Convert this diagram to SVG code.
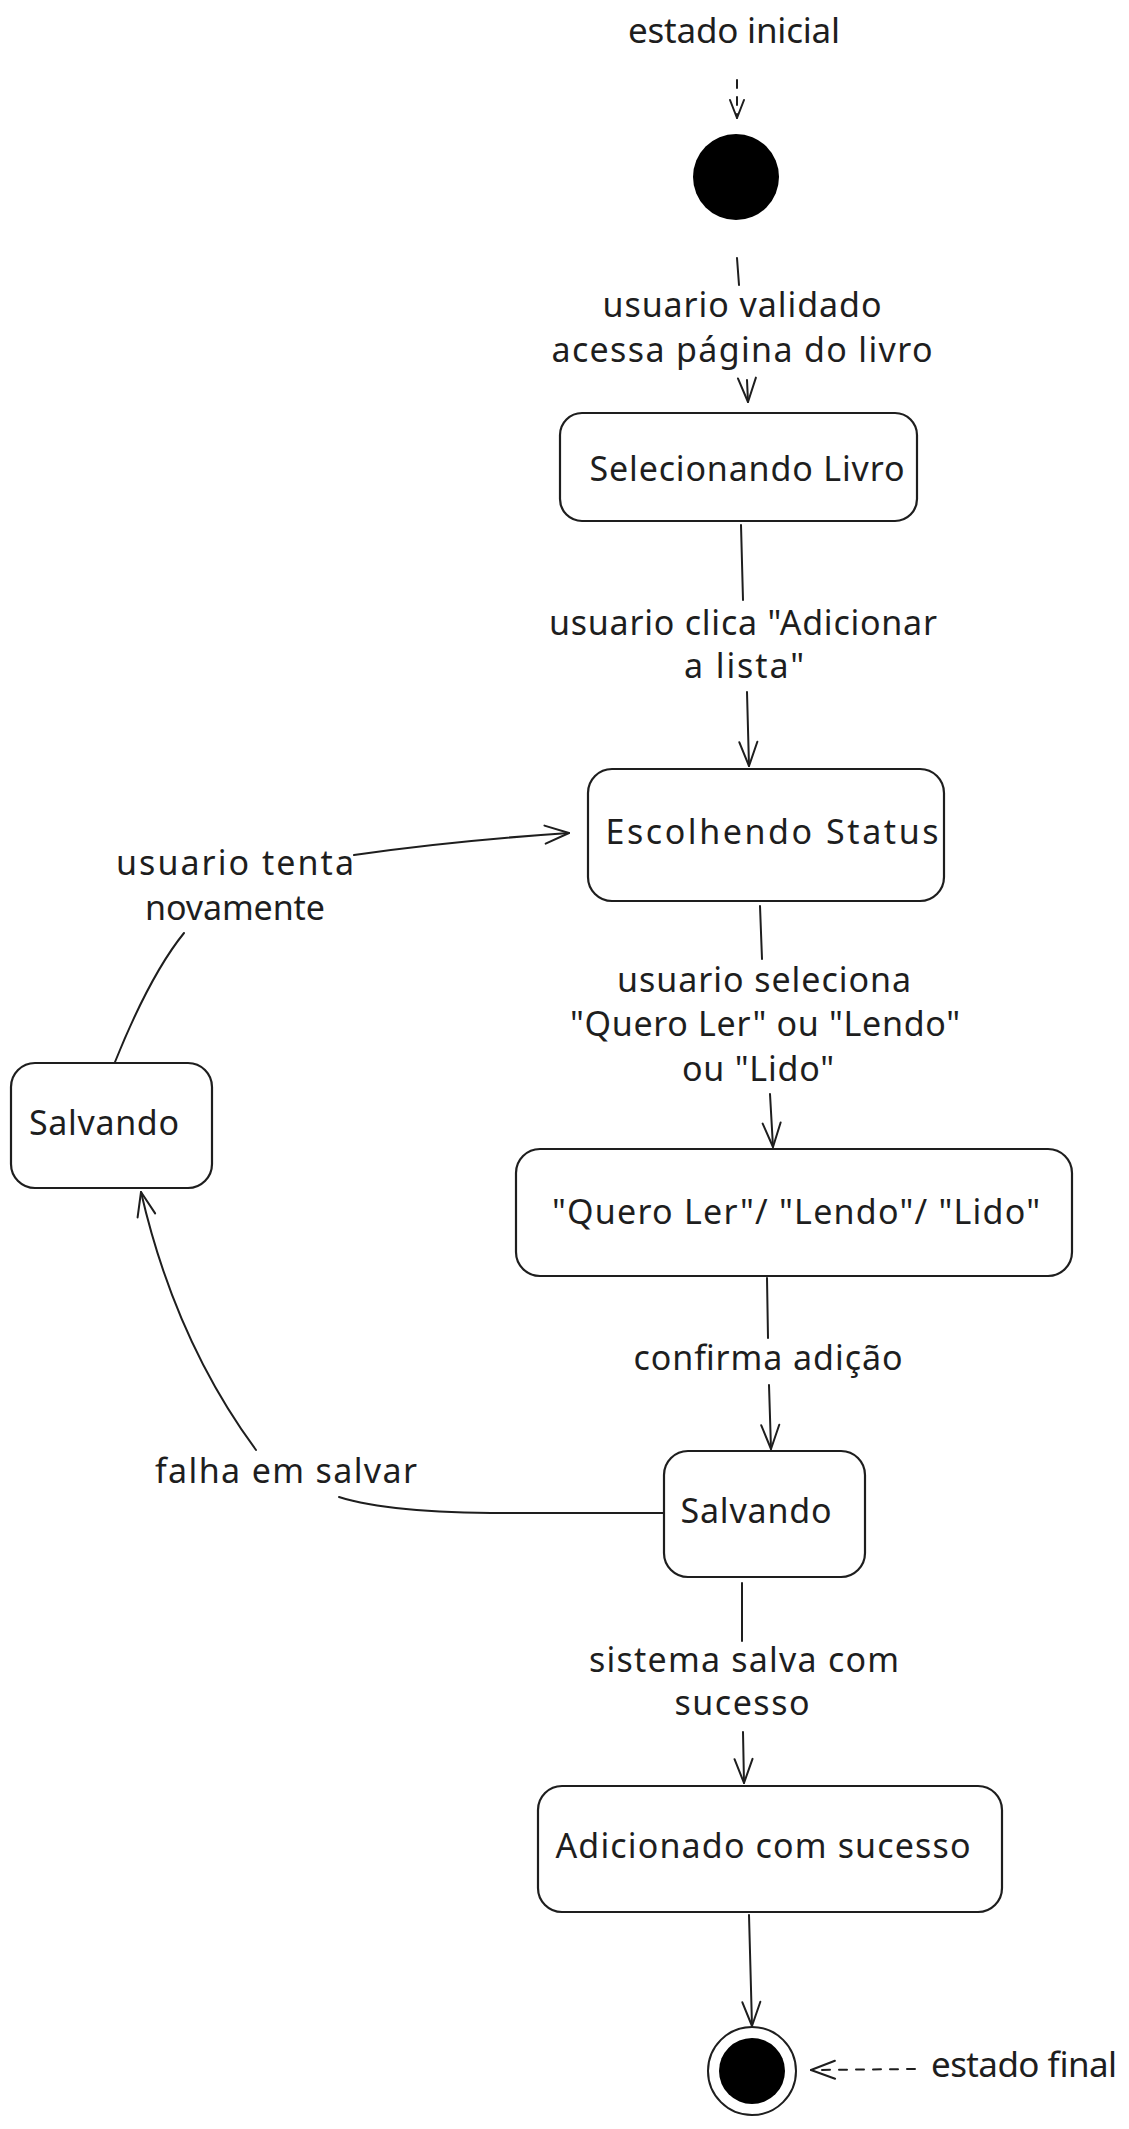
<svg xmlns="http://www.w3.org/2000/svg" width="1129" height="2129" viewBox="0 0 1129 2129">
<style>
  .box{fill:#ffffff;stroke:#1e1e1e;stroke-width:2.2}
  .hand{font-family:"Noto Sans","Liberation Sans",sans-serif;font-size:34px;fill:#1e1e1e;text-anchor:middle}
  .sans{font-family:"Noto Sans","Liberation Sans",sans-serif;font-size:35px;fill:#1e1e1e;text-anchor:middle}
  .edge{fill:none;stroke:#1e1e1e;stroke-width:2;stroke-linecap:round}
  .dash{stroke-dasharray:8 9}
</style>
<defs>
  <marker id="ah" viewBox="-28 -12 30 24" refX="0" refY="0" markerWidth="30" markerHeight="24" markerUnits="userSpaceOnUse" orient="auto">
    <path d="M-24,-9 L0,0 L-24,9" fill="none" stroke="#1e1e1e" stroke-width="2" stroke-linecap="round" stroke-linejoin="round"/>
  </marker>
  <marker id="ahs" viewBox="-28 -12 30 24" refX="0" refY="0" markerWidth="30" markerHeight="24" markerUnits="userSpaceOnUse" orient="auto">
    <path d="M-18,-7 L0,0 L-18,7" fill="none" stroke="#1e1e1e" stroke-width="2" stroke-linecap="round" stroke-linejoin="round"/>
  </marker>
</defs>
<rect x="0" y="0" width="1129" height="2129" fill="#ffffff"/>

<g id="connectors">
  <g id="e-inicial">
    <path class="edge dash" d="M737,80 L737,118" marker-end="url(#ahs)"/>
  </g>
  <g id="e-validado">
    <path class="edge" d="M737,258 L739,285"/>
    <path class="edge" d="M747,380 L748,402" marker-end="url(#ah)"/>
    <text class="hand" x="742" y="317" textLength="279">usuario validado</text>
    <text class="hand" x="742" y="362" textLength="381">acessa página do livro</text>
  </g>
  <g id="e-adicionar">
    <path class="edge" d="M741,525 L743,600"/>
    <path class="edge" d="M747,692 L749,766" marker-end="url(#ah)"/>
    <text class="hand" x="743" y="635" textLength="388">usuario clica &quot;Adicionar</text>
    <text class="hand" x="744" y="678" textLength="120">a lista&quot;</text>
  </g>
  <g id="e-seleciona">
    <path class="edge" d="M760,906 L762,959"/>
    <path class="edge" d="M770,1094 L773,1147" marker-end="url(#ah)"/>
    <text class="hand" x="764" y="992" textLength="294">usuario seleciona</text>
    <text class="hand" x="765" y="1036" textLength="390">&quot;Quero Ler&quot; ou &quot;Lendo&quot;</text>
    <text class="hand" x="758" y="1081" textLength="152">ou &quot;Lido&quot;</text>
  </g>
  <g id="e-confirma">
    <path class="edge" d="M767,1278 L768,1338"/>
    <path class="edge" d="M769,1385 L771,1449" marker-end="url(#ah)"/>
    <text class="hand" x="768" y="1370" textLength="269">confirma adição</text>
  </g>
  <g id="e-falha">
    <path class="edge" d="M663,1513 L505,1513 Q390,1513 339,1497"/>
    <path class="edge" d="M256,1450 Q175,1340 141,1192" marker-end="url(#ah)"/>
    <text class="hand" x="286" y="1483" textLength="262">falha em salvar</text>
  </g>
  <g id="e-tenta">
    <path class="edge" d="M115,1062 Q150,975 184,933"/>
    <path class="edge" d="M354,855 Q450,841 569,833" marker-end="url(#ah)"/>
    <text class="hand" x="235" y="875" textLength="238">usuario tenta</text>
    <text class="hand" x="235" y="920" textLength="180">novamente</text>
  </g>
  <g id="e-sucesso">
    <path class="edge" d="M742,1583 L742,1641"/>
    <path class="edge" d="M743,1732 L744,1783" marker-end="url(#ah)"/>
    <text class="hand" x="744" y="1672" textLength="310">sistema salva com</text>
    <text class="hand" x="742" y="1715" textLength="135">sucesso</text>
  </g>
  <g id="e-final">
    <path class="edge" d="M749,1915 L752,2026" marker-end="url(#ah)"/>
  </g>
  <g id="e-final-label">
    <path class="edge dash" d="M915,2069 L811,2070" marker-end="url(#ah)"/>
  </g>
</g>

<g id="estado-inicial-label">
  <text class="sans" x="734" y="43" textLength="212">estado inicial</text>
</g>
<g id="inicio">
  <circle cx="736" cy="177" r="43" fill="#000000"/>
</g>
<g id="selecionando-livro">
  <rect class="box" x="560" y="413" width="357" height="108" rx="22"/>
  <text class="hand" x="747" y="481" textLength="315">Selecionando Livro</text>
</g>
<g id="escolhendo-status">
  <rect class="box" x="588" y="769" width="356" height="132" rx="24"/>
  <text class="hand" x="772" y="844" textLength="333">Escolhendo Status</text>
</g>
<g id="quero-lendo-lido">
  <rect class="box" x="516" y="1149" width="556" height="127" rx="24"/>
  <text class="hand" x="796" y="1224" textLength="488">&quot;Quero Ler&quot;/ &quot;Lendo&quot;/ &quot;Lido&quot;</text>
</g>
<g id="salvando">
  <rect class="box" x="664" y="1451" width="201" height="126" rx="24"/>
  <text class="hand" x="756" y="1523" textLength="151">Salvando</text>
</g>
<g id="salvando-falha">
  <rect class="box" x="11" y="1063" width="201" height="125" rx="24"/>
  <text class="hand" x="104" y="1135" textLength="150">Salvando</text>
</g>
<g id="adicionado">
  <rect class="box" x="538" y="1786" width="464" height="126" rx="24"/>
  <text class="hand" x="763" y="1858" textLength="415">Adicionado com sucesso</text>
</g>
<g id="fim">
  <circle cx="752" cy="2071" r="44" fill="#ffffff" stroke="#1e1e1e" stroke-width="2"/>
  <circle cx="752" cy="2071" r="33" fill="#000000"/>
</g>
<g id="estado-final-label">
  <text class="sans" x="1024" y="2077" textLength="186">estado final</text>
</g>
</svg>
